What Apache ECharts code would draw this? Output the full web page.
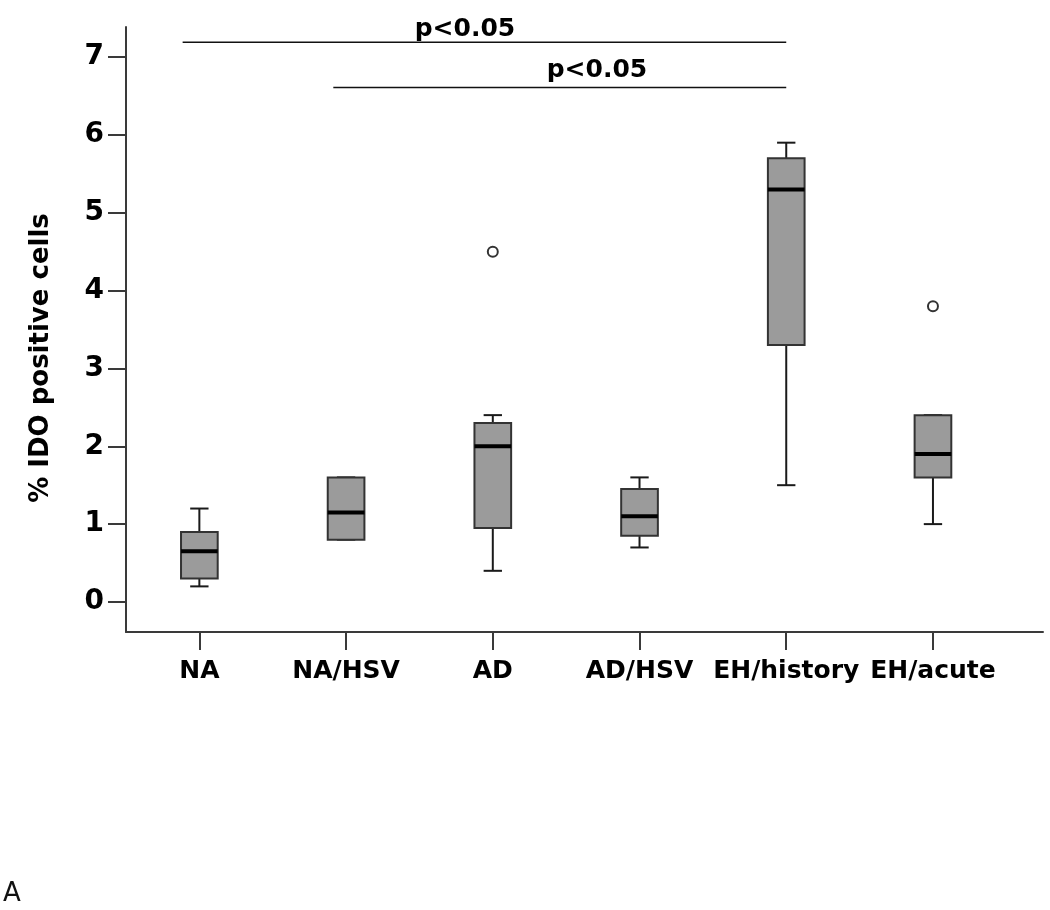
<!DOCTYPE html>
<html>
<head>
<meta charset="utf-8">
<script src="https://cdn.jsdelivr.net/npm/echarts@6/dist/echarts.min.js"></script>
<style>
  html, body { margin: 0; padding: 0; background: #fff; }
  #chart { width: 1050px; height: 910px; }
</style>
</head>
<body>
<div id="chart"></div>
<script>
// groups along the x axis
var categories = ['NA', 'NA/HSV', 'AD', 'AD/HSV', 'EH/history', 'EH/acute'];
// box stats per group: [min, Q1, median, Q3, max]
var boxStats = [
  [0.2, 0.3, 0.65, 0.9, 1.2],
  [0.8, 0.8, 1.15, 1.6, 1.6],
  [0.4, 0.95, 2.0, 2.3, 2.4],
  [0.7, 0.85, 1.1, 1.45, 1.6],
  [1.5, 3.3, 5.3, 5.7, 5.9],
  [1.0, 1.6, 1.9, 2.4, 2.4]
];
// outliers: [group index, value]
var outliers = [[2, 4.5], [5, 3.8]];
var yTicks = [0, 1, 2, 3, 4, 5, 6, 7];
// significance brackets: from group, to group, bracket level, label spot
var brackets = [
  { from: 0, to: 4, start: -0.114, level: 7.19, labelX: 1.81, labelY: 7.36, text: 'p<0.05' },
  { from: 1, to: 4, start: -0.087, level: 6.61, labelX: 2.71, labelY: 6.83, text: 'p<0.05' }
];

var boldFont = 'DejaVu Sans';
var axisColor = '#3a3a3a';

var boxData = boxStats.map(function (s, i) { return [i].concat(s); });

var bracketSeries = brackets.map(function (b) {
  return {
    type: 'line',
    data: [[b.from + b.start, b.level], [b.to, b.level]],
    symbol: 'none',
    silent: true,
    lineStyle: { color: '#111', width: 1.5 },
    z: 5
  };
});

var chart = echarts.init(document.getElementById('chart'), null, { renderer: 'canvas' });
chart.setOption({
  animation: false,
  backgroundColor: '#fff',
  title: {
    text: 'A',
    left: 3,
    top: 881,
    padding: 0,
    textStyle: { fontFamily: 'DejaVu Sans', fontWeight: 'normal', fontSize: 26, color: '#111' }
  },
  grid: { left: 126, right: 7, top: 27, bottom: 278 },
  xAxis: {
    type: 'value',
    min: -0.5,
    max: 5.75,
    splitLine: { show: false },
    axisLine: { show: true, onZero: false, lineStyle: { color: axisColor, width: 2 } },
    axisTick: {
      show: true,
      length: 18,
      customValues: categories.map(function (c, i) { return i; }),
      lineStyle: { color: axisColor, width: 2 }
    },
    axisLabel: {
      customValues: categories.map(function (c, i) { return i; }),
      formatter: function (v) { return categories[Math.round(v)]; },
      margin: 27,
      fontFamily: boldFont,
      fontWeight: 'bold',
      fontSize: 25,
      color: '#000'
    }
  },
  yAxis: {
    type: 'value',
    min: -0.386,
    max: 7.386,
    name: '% IDO positive cells',
    nameLocation: 'middle',
    nameGap: 72,
    nameTextStyle: {
      fontFamily: boldFont,
      fontWeight: 'bold',
      fontSize: 26,
      color: '#000',
      padding: [0, 57, 0, 0]
    },
    splitLine: { show: false },
    axisLine: { show: true, onZero: false, lineStyle: { color: axisColor, width: 2 } },
    axisTick: {
      show: true,
      length: 18,
      customValues: yTicks,
      lineStyle: { color: axisColor, width: 2 }
    },
    axisLabel: {
      customValues: yTicks,
      margin: 22,
      fontFamily: boldFont,
      fontWeight: 'bold',
      fontSize: 28,
      color: '#000'
    }
  },
  series: [
    {
      type: 'custom',
      data: boxData,
      clip: false,
      encode: { x: 0, y: [1, 2, 3, 4, 5] },
      renderItem: function (params, api) {
        var x = api.value(0);
        var lo = api.coord([x, api.value(1)]);
        var q1 = api.coord([x, api.value(2)]);
        var med = api.coord([x, api.value(3)]);
        var q3 = api.coord([x, api.value(4)]);
        var hi = api.coord([x, api.value(5)]);
        var band = api.size([1, 0])[0];
        var hw = band * 0.125;
        var cw = hw * 0.5;
        var cx = lo[0];
        var wStyle = { stroke: '#1a1a1a', lineWidth: 2 };
        return {
          type: 'group',
          children: [
            { type: 'line', shape: { x1: cx, y1: hi[1], x2: cx, y2: q3[1] }, style: wStyle },
            { type: 'line', shape: { x1: cx, y1: q1[1], x2: cx, y2: lo[1] }, style: wStyle },
            { type: 'line', shape: { x1: cx - cw, y1: hi[1], x2: cx + cw, y2: hi[1] }, style: wStyle },
            { type: 'line', shape: { x1: cx - cw, y1: lo[1], x2: cx + cw, y2: lo[1] }, style: wStyle },
            {
              type: 'rect',
              shape: { x: cx - hw, y: q3[1], width: hw * 2, height: q1[1] - q3[1] },
              style: { fill: '#9b9b9b', stroke: '#333', lineWidth: 2 }
            },
            { type: 'line', shape: { x1: cx - hw, y1: med[1], x2: cx + hw, y2: med[1] }, style: { stroke: '#000', lineWidth: 4 } }
          ]
        };
      },
      z: 3
    },
    {
      type: 'scatter',
      data: outliers,
      symbol: 'emptyCircle',
      symbolSize: 10,
      itemStyle: { color: '#333', borderColor: '#333', borderWidth: 1.5, opacity: 1 },
      z: 4
    },
    {
      type: 'scatter',
      data: brackets.map(function (b) { return { value: [b.labelX, b.labelY], name: b.text }; }),
      symbolSize: 0,
      silent: true,
      itemStyle: { opacity: 1 },
      label: {
        show: true,
        position: 'inside',
        formatter: '{b}',
        fontFamily: boldFont,
        fontWeight: 'bold',
        fontSize: 25,
        color: '#000',
        textBorderWidth: 0
      },
      z: 6
    }
  ].concat(bracketSeries)
});
</script>
</body>
</html>
